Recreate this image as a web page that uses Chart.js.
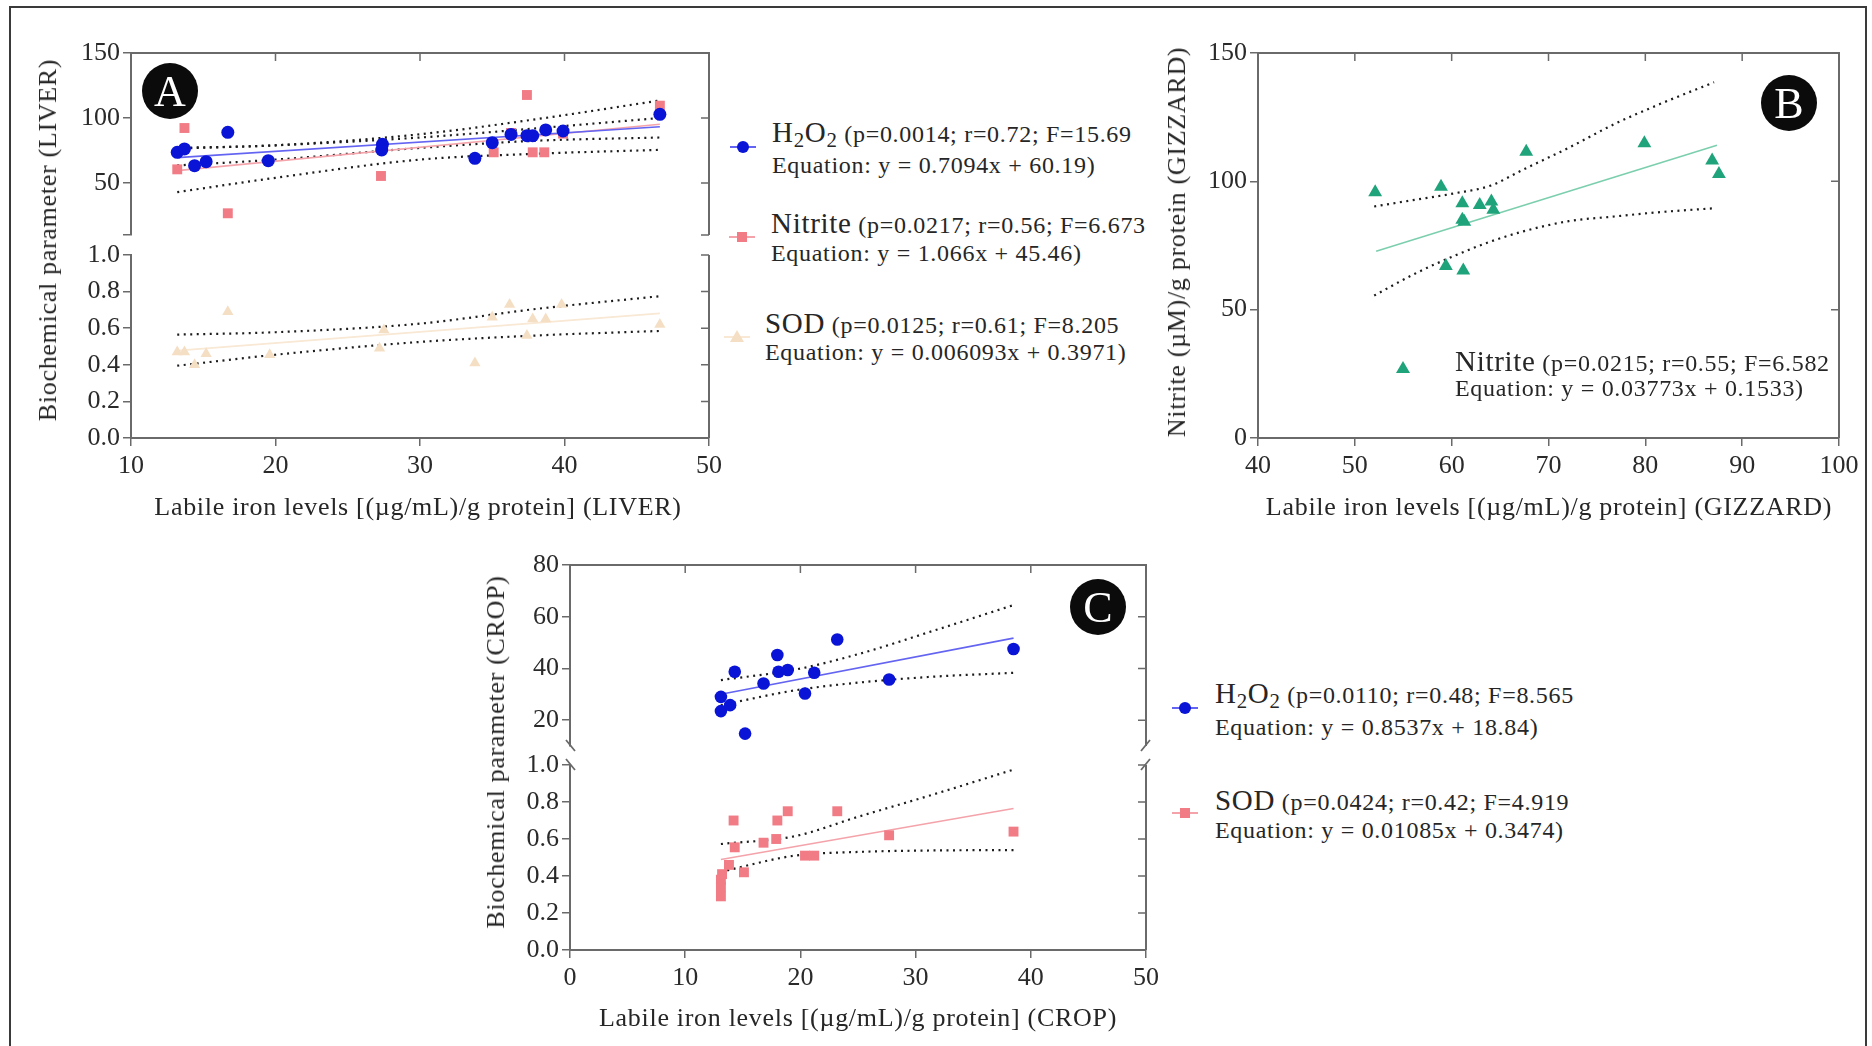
<!DOCTYPE html>
<html>
<head>
<meta charset="utf-8">
<script src="https://cdn.jsdelivr.net/npm/chart.js@4.4.1/dist/chart.umd.min.js"></script>
<style>
    html, body { margin: 0; padding: 0; background: #fff; }
    #fig { position: relative; width: 1872px; height: 1046px; overflow: hidden; background: #fff; }
    #frame { position: absolute; left: 9px; top: 6px; width: 1858px; height: 1100px;
             border: 2px solid #3a3a3a; box-sizing: border-box; }
    canvas { position: absolute; }

    .t { position: absolute; font-family: 'Liberation Serif', serif; color: #262626;
         white-space: nowrap; line-height: 1; letter-spacing: 0.7px; transform: translateY(-50%); }
    .title  { font-size: 26px; transform: translate(-50%, -50%); }
    .ytitle { font-size: 26px; transform: translate(-50%, -50%) rotate(-90deg); }
    .leg    { font-size: 24px; }
    .leg .n { font-size: 29px; }
    .leg sub { font-size: 0.72em; vertical-align: -0.28em; line-height: 0; }

    .badge { position: absolute; width: 56px; height: 56px; border-radius: 50%; background: #0b0b0b;
             color: #fff; font-family: 'Liberation Serif', serif; font-size: 44px; line-height: 58px;
             text-align: center; transform: translate(-50%, -50%); }

    .mk { position: absolute; width: 0; height: 0; }
    .mk i { position: absolute; display: block; }
    .mk .ln { left: -13px; top: -1px; width: 26px; height: 2px; }
    .mk .circle { left: -6px; top: -6px; width: 12px; height: 12px; border-radius: 50%; }
    .mk .square { left: -5px; top: -5px; width: 10px; height: 10px; }
    .mk .tri { left: -7px; top: -7px; width: 14px; height: 12px; clip-path: polygon(50% 0, 100% 100%, 0 100%); }
</style>
</head>
<body>
<div id="fig">
    <div id="frame"></div>

    <!-- Panel A: liver -->
    <div class="t ytitle" style="left:48px; top:240px">Biochemical parameter (LIVER)</div>
    <div class="t title" style="left:418px; top:507px">Labile iron levels [(µg/mL)/g protein] (LIVER)</div>
    <div class="t leg" style="left:772px; top:132px"><span class="n">H<sub>2</sub>O<sub>2</sub></span> (p=0.0014; r=0.72; F=15.69</div>
    <div class="t leg" style="left:772px; top:165px">Equation: y = 0.7094x + 60.19)</div>
    <div class="t leg" style="left:771px; top:223px"><span class="n">Nitrite</span> (p=0.0217; r=0.56; F=6.673</div>
    <div class="t leg" style="left:771px; top:253px">Equation: y = 1.066x + 45.46)</div>
    <div class="t leg" style="left:765px; top:323px"><span class="n">SOD</span> (p=0.0125; r=0.61; F=8.205</div>
    <div class="t leg" style="left:765px; top:352px">Equation: y = 0.006093x + 0.3971)</div>

    <!-- Panel B: gizzard -->
    <div class="t ytitle" style="left:1177px; top:242px">Nitrite (µM)/g protein (GIZZARD)</div>
    <div class="t title" style="left:1549px; top:507px">Labile iron levels [(µg/mL)/g protein] (GIZZARD)</div>
    <div class="t leg" style="left:1455px; top:361px"><span class="n">Nitrite</span> (p=0.0215; r=0.55; F=6.582</div>
    <div class="t leg" style="left:1455px; top:388px">Equation: y = 0.03773x + 0.1533)</div>

    <!-- Panel C: crop -->
    <div class="t ytitle" style="left:496px; top:752px">Biochemical parameter (CROP)</div>
    <div class="t title" style="left:858px; top:1018px">Labile iron levels [(µg/mL)/g protein] (CROP)</div>
    <div class="t leg" style="left:1215px; top:693px"><span class="n">H<sub>2</sub>O<sub>2</sub></span> (p=0.0110; r=0.48; F=8.565</div>
    <div class="t leg" style="left:1215px; top:727px">Equation: y = 0.8537x + 18.84)</div>
    <div class="t leg" style="left:1215px; top:800px"><span class="n">SOD</span> (p=0.0424; r=0.42; F=4.919</div>
    <div class="t leg" style="left:1215px; top:830px">Equation: y = 0.01085x + 0.3474)</div>
</div>

<script>
// ---------------------------------------------------------
// Data
// ---------------------------------------------------------

// Panel A (liver)
const A_X_TICKS      = [10, 20, 30, 40, 50];
const A_TOP_TICKS    = [10, 50, 100, 150];
const A_BOTTOM_TICKS = [0, 0.2, 0.4, 0.6, 0.8, 1.0];

const A_H2O2_X = [13.2, 13.7, 14.4, 15.2, 16.7, 19.5, 27.35, 27.4, 33.8, 35.0, 36.3, 37.4, 37.8, 38.7, 39.9, 46.6];
const A_H2O2_Y = [73.6, 76.2, 63.3, 66.4, 89.0, 67.2, 75.4, 79.8, 69.0, 81.0, 87.4, 86.4, 86.4, 90.8, 90.0, 102.8];

const A_NITRITE_X = [13.2, 13.7, 16.7, 27.3, 35.1, 36.3, 37.4, 37.8, 38.6, 39.9, 46.6];
const A_NITRITE_Y = [60.5, 92.3, 26.7, 55.4, 73.6, 88.5, 117.7, 73.6, 73.6, 88.0, 109.5];

const A_SOD_X = [13.2, 13.7, 14.4, 15.2, 16.7, 19.6, 27.2, 27.5, 33.8, 35.0, 36.2, 37.4, 37.8, 38.7, 39.8, 46.6];
const A_SOD_Y = [0.47, 0.47, 0.40, 0.46, 0.69, 0.455, 0.49, 0.59, 0.41, 0.66, 0.73, 0.56, 0.65, 0.65, 0.73, 0.62];

// regression [slope, intercept] and the x span it is drawn over
const A_FIT_X       = [13.2, 46.6];
const A_H2O2_FIT    = [0.7094, 60.19];
const A_NITRITE_FIT = [1.066, 45.46];
const A_SOD_FIT     = [0.006093, 0.3971];

// 95% confidence bands
const A_BAND_X        = [13.2, 20, 30, 38, 46.6];
const A_H2O2_UPPER    = [76.5, 79, 85, 92, 100];
const A_H2O2_LOWER    = [63.5, 68, 77, 82.5, 85];
const A_NITRITE_UPPER = [77, 79, 87.5, 99, 113.5];
const A_NITRITE_LOWER = [43, 54, 68, 72.5, 75.5];
const A_SOD_UPPER     = [0.565, 0.578, 0.625, 0.705, 0.775];
const A_SOD_LOWER     = [0.395, 0.455, 0.525, 0.56, 0.585];

// Panel B (gizzard)
const B_X_TICKS = [40, 50, 60, 70, 80, 90, 100];
const B_Y_TICKS = [0, 50, 100, 150];

const B_NITRITE_X = [52.1, 58.9, 61.1, 61.1, 61.3, 62.9, 64.1, 64.3, 59.4, 61.2, 67.7, 79.9, 86.9, 87.6];
const B_NITRITE_Y = [95.7, 97.9, 91.5, 85.0, 84.3, 90.8, 92.1, 88.9, 67.0, 65.3, 111.5, 114.8, 108.1, 102.9];

const B_FIT_X = [52.2, 87.4];
const B_FIT_Y = [72.8, 114.1];

const B_BAND_X = [52.0, 56.2, 60.4, 64.0, 67.4, 72.1, 76.8, 81.5, 87.1];
const B_UPPER  = [90.2, 92.8, 95.4, 98.3, 104.6, 113.1, 122.3, 130.1, 138.6];
const B_LOWER  = [55.5, 64.0, 71.2, 76.5, 80.5, 84.5, 86.3, 88.0, 89.5];

// Panel C (crop)
const C_X_TICKS      = [0, 10, 20, 30, 40, 50];
const C_TOP_TICKS    = [20, 40, 60, 80];
const C_BOTTOM_TICKS = [0, 0.2, 0.4, 0.6, 0.8, 1.0];

const C_H2O2_X = [13.1, 13.1, 13.9, 14.3, 15.2, 16.8, 18.0, 18.1, 18.9, 20.4, 21.2, 23.2, 27.7, 38.5];
const C_H2O2_Y = [29.0, 23.5, 25.8, 38.7, 14.8, 34.2, 45.2, 38.7, 39.4, 30.3, 38.3, 51.2, 35.7, 47.5];

const C_SOD_X = [13.1, 13.1, 13.1, 13.2, 13.8, 14.2, 14.3, 15.1, 16.8, 17.9, 18.0, 18.9, 20.4, 21.2, 23.2, 27.7, 38.5];
const C_SOD_Y = [0.29, 0.34, 0.38, 0.41, 0.46, 0.70, 0.555, 0.42, 0.58, 0.60, 0.70, 0.75, 0.51, 0.51, 0.75, 0.62, 0.64];

const C_FIT_X    = [13.1, 38.5];
const C_H2O2_FIT = [0.8537, 18.84];
const C_SOD_FIT  = [0.01085, 0.3474];

const C_BAND_X     = [13.1, 19.5, 25, 31.5, 38.5];
const C_H2O2_UPPER = [35.5, 39.5, 45.5, 54.5, 64.5];
const C_H2O2_LOWER = [25.8, 31.5, 34.5, 36.8, 38.3];
const C_SOD_UPPER  = [0.573, 0.615, 0.72, 0.84, 0.975];
const C_SOD_LOWER  = [0.423, 0.51, 0.53, 0.538, 0.54];

// ---------------------------------------------------------
// Style
// ---------------------------------------------------------

const BLUE       = '#0a14d6';
const BLUE_LINE  = '#6464f2';
const PINK       = '#f17c86';
const PINK_LINE  = '#f4a3aa';
const PEACH      = '#f5dfc4';
const PEACH_LINE = '#f8e8d4';
const GREEN      = '#1fa37a';
const GREEN_LINE = '#7ccfae';
const DOTS       = '#1c1c1c';
const AXIS       = '#6a6a6a';
const TICK_LEN   = 8;
const FONT       = "'Liberation Serif', serif";

const PAD = { l: 100, t: 20, r: 40, b: 60, nb: 20 };

// ---------------------------------------------------------
// Helpers
// ---------------------------------------------------------

const fig = document.getElementById('fig');

const pts    = (xs, ys) => xs.map((x, i) => ({ x, y: ys[i] }));
const eqLine = (xs, fit) => xs.map(x => ({ x, y: fit[0] * x + fit[1] }));

function scatter(data, color, style, r, order) {
    return { data, pointStyle: style, pointRadius: r, pointHoverRadius: r,
             backgroundColor: color, borderColor: color, borderWidth: 0,
             showLine: false, order };
}

function fitLine(data, color) {
    return { data, showLine: true, borderColor: color, borderWidth: 1.6,
             pointRadius: 0, fill: false, order: 5 };
}

function band(data) {
    return { data, showLine: true, borderColor: DOTS, borderWidth: 2.2, borderDash: [2, 4.5],
             cubicInterpolationMode: 'monotone', pointRadius: 0, fill: false, order: 6 };
}

// right-hand axis, optional top axis, inward mirror ticks and axis break marks
const framePlugin = {
    id: 'frame',
    afterDraw(chart, _args, o) {
        const { ctx, chartArea: a, scales: { x, y } } = chart;
        ctx.save();
        ctx.strokeStyle = AXIS;
        ctx.lineWidth = 2;
        ctx.beginPath();
        ctx.moveTo(a.right, a.bottom);
        ctx.lineTo(a.right, a.top);
        if (o.top) ctx.lineTo(a.left, a.top);
        ctx.stroke();

        ctx.lineWidth = 1.5;
        ctx.beginPath();
        o.yTicks.forEach(v => {
            const py = y.getPixelForValue(v);
            ctx.moveTo(a.right - TICK_LEN, py);
            ctx.lineTo(a.right, py);
        });
        if (o.top) o.xTicks.forEach(v => {
            const px = x.getPixelForValue(v);
            ctx.moveTo(px, a.top);
            ctx.lineTo(px, a.top + TICK_LEN);
        });
        ctx.stroke();

        if (o.cut) {
            const cy = o.cut === 'bottom' ? a.bottom : a.top;
            ctx.lineWidth = 1.8;
            ctx.beginPath();
            ctx.moveTo(a.left - 4, cy - 6);  ctx.lineTo(a.left + 5, cy + 5);
            ctx.moveTo(a.right - 5, cy + 5); ctx.lineTo(a.right + 4, cy - 6);
            ctx.stroke();
        }
        ctx.restore();
    }
};

function segment(area, cfg) {
    const bottom = cfg.showX ? PAD.b : PAD.nb;
    const W = area.w + PAD.l + PAD.r;
    const H = area.h + PAD.t + bottom;

    const cv = document.createElement('canvas');
    cv.width = W; cv.height = H;
    cv.style.left = (area.x - PAD.l) + 'px';
    cv.style.top  = (area.y - PAD.t) + 'px';
    cv.style.width = W + 'px'; cv.style.height = H + 'px';
    fig.insertBefore(cv, fig.children[1]);

    const axisGrid = { display: true, drawOnChartArea: false, drawTicks: true,
                       tickLength: TICK_LEN, color: AXIS, lineWidth: 1.5 };
    const axisBorder = { display: true, color: AXIS, width: 2 };
    const tickFont = { family: FONT, size: 26 };

    new Chart(cv, {
        type: 'scatter',
        data: { datasets: cfg.datasets },
        options: {
            responsive: false,
            animation: false,
            devicePixelRatio: 1,
            layout: { padding: { left: 0, top: PAD.t, right: PAD.r, bottom: cfg.showX ? 0 : PAD.nb } },
            plugins: {
                legend: { display: false },
                tooltip: { enabled: false },
                frame: { top: cfg.top, cut: cfg.cut, xTicks: cfg.xTicks, yTicks: cfg.yTicks },
            },
            scales: {
                x: {
                    type: 'linear', min: cfg.xMin, max: cfg.xMax, display: cfg.showX,
                    afterBuildTicks: s => { s.ticks = cfg.xTicks.map(v => ({ value: v })); },
                    afterFit: s => { s.height = cfg.showX ? PAD.b : 0; },
                    grid: axisGrid, border: axisBorder,
                    ticks: { font: tickFont, color: '#2a2a2a', padding: 5, maxRotation: 0,
                             callback: v => String(v) },
                },
                y: {
                    type: 'linear', min: cfg.yMin, max: cfg.yMax,
                    afterBuildTicks: s => { s.ticks = cfg.yTicks.map(v => ({ value: v })); },
                    afterFit: s => { s.width = PAD.l; },
                    grid: axisGrid, border: axisBorder,
                    ticks: { font: tickFont, color: '#2a2a2a', padding: 3, callback: cfg.yFmt },
                },
            },
        },
        plugins: [framePlugin],
    });
}

function legendMark(x, y, shape, fill, line) {
    const m = document.createElement('div');
    m.className = 'mk';
    m.style.left = x + 'px';
    m.style.top = y + 'px';
    m.innerHTML = `<i class="ln" style="background:${line}"></i><i class="${shape}" style="background:${fill}"></i>`;
    fig.appendChild(m);
}

function badge(x, y, letter) {
    const b = document.createElement('div');
    b.className = 'badge';
    b.style.left = x + 'px';
    b.style.top = y + 'px';
    b.textContent = letter;
    fig.appendChild(b);
}

const fmtInt = v => String(v);
const fmtDec = v => v.toFixed(1);

// ---------------------------------------------------------
// Panel A
// ---------------------------------------------------------

segment({ x: 131, y: 53, w: 578, h: 182 }, {
    xMin: 10, xMax: 50, xTicks: A_X_TICKS, showX: false, top: true,
    yMin: 10, yMax: 150, yTicks: A_TOP_TICKS, yFmt: v => (v === 10 ? '' : String(v)),
    datasets: [
        scatter(pts(A_H2O2_X, A_H2O2_Y), BLUE, 'circle', 6.5, 0),
        scatter(pts(A_NITRITE_X, A_NITRITE_Y), PINK, 'rect', 7, 1),
        fitLine(eqLine(A_FIT_X, A_H2O2_FIT), BLUE_LINE),
        fitLine(eqLine(A_FIT_X, A_NITRITE_FIT), PINK_LINE),
        band(pts(A_BAND_X, A_H2O2_UPPER)),
        band(pts(A_BAND_X, A_H2O2_LOWER)),
        band(pts(A_BAND_X, A_NITRITE_UPPER)),
        band(pts(A_BAND_X, A_NITRITE_LOWER)),
    ],
});

segment({ x: 131, y: 255, w: 578, h: 183 }, {
    xMin: 10, xMax: 50, xTicks: A_X_TICKS, showX: true,
    yMin: 0, yMax: 1, yTicks: A_BOTTOM_TICKS, yFmt: fmtDec,
    datasets: [
        scatter(pts(A_SOD_X, A_SOD_Y), PEACH, 'triangle', 6.5, 0),
        fitLine(eqLine(A_FIT_X, A_SOD_FIT), PEACH_LINE),
        band(pts(A_BAND_X, A_SOD_UPPER)),
        band(pts(A_BAND_X, A_SOD_LOWER)),
    ],
});

badge(170, 91, 'A');
legendMark(743, 147, 'circle', BLUE, BLUE_LINE);
legendMark(742, 237, 'square', PINK, PINK_LINE);
legendMark(737, 337, 'tri', PEACH, PEACH_LINE);

// ---------------------------------------------------------
// Panel B
// ---------------------------------------------------------

segment({ x: 1258, y: 53, w: 581, h: 385 }, {
    xMin: 40, xMax: 100, xTicks: B_X_TICKS, showX: true, top: true,
    yMin: 0, yMax: 150, yTicks: B_Y_TICKS, yFmt: fmtInt,
    datasets: [
        scatter(pts(B_NITRITE_X, B_NITRITE_Y), GREEN, 'triangle', 8, 0),
        fitLine(pts(B_FIT_X, B_FIT_Y), GREEN_LINE),
        band(pts(B_BAND_X, B_UPPER)),
        band(pts(B_BAND_X, B_LOWER)),
    ],
});

badge(1789, 103, 'B');
legendMark(1403, 368, 'tri', GREEN, 'transparent');

// ---------------------------------------------------------
// Panel C
// ---------------------------------------------------------

segment({ x: 570, y: 565, w: 576, h: 181 }, {
    xMin: 0, xMax: 50, xTicks: C_X_TICKS, showX: false, top: true, cut: 'bottom',
    yMin: 10, yMax: 80, yTicks: C_TOP_TICKS, yFmt: fmtInt,
    datasets: [
        scatter(pts(C_H2O2_X, C_H2O2_Y), BLUE, 'circle', 6.3, 0),
        fitLine(eqLine(C_FIT_X, C_H2O2_FIT), BLUE_LINE),
        band(pts(C_BAND_X, C_H2O2_UPPER)),
        band(pts(C_BAND_X, C_H2O2_LOWER)),
    ],
});

segment({ x: 570, y: 765, w: 576, h: 185 }, {
    xMin: 0, xMax: 50, xTicks: C_X_TICKS, showX: true, cut: 'top',
    yMin: 0, yMax: 1, yTicks: C_BOTTOM_TICKS, yFmt: fmtDec,
    datasets: [
        scatter(pts(C_SOD_X, C_SOD_Y), PINK, 'rect', 7, 0),
        fitLine(eqLine(C_FIT_X, C_SOD_FIT), PINK_LINE),
        band(pts(C_BAND_X, C_SOD_UPPER)),
        band(pts(C_BAND_X, C_SOD_LOWER)),
    ],
});

badge(1098, 607, 'C');
legendMark(1185, 708, 'circle', BLUE, BLUE_LINE);
legendMark(1185, 813, 'square', PINK, PINK_LINE);
</script>
</body>
</html>
